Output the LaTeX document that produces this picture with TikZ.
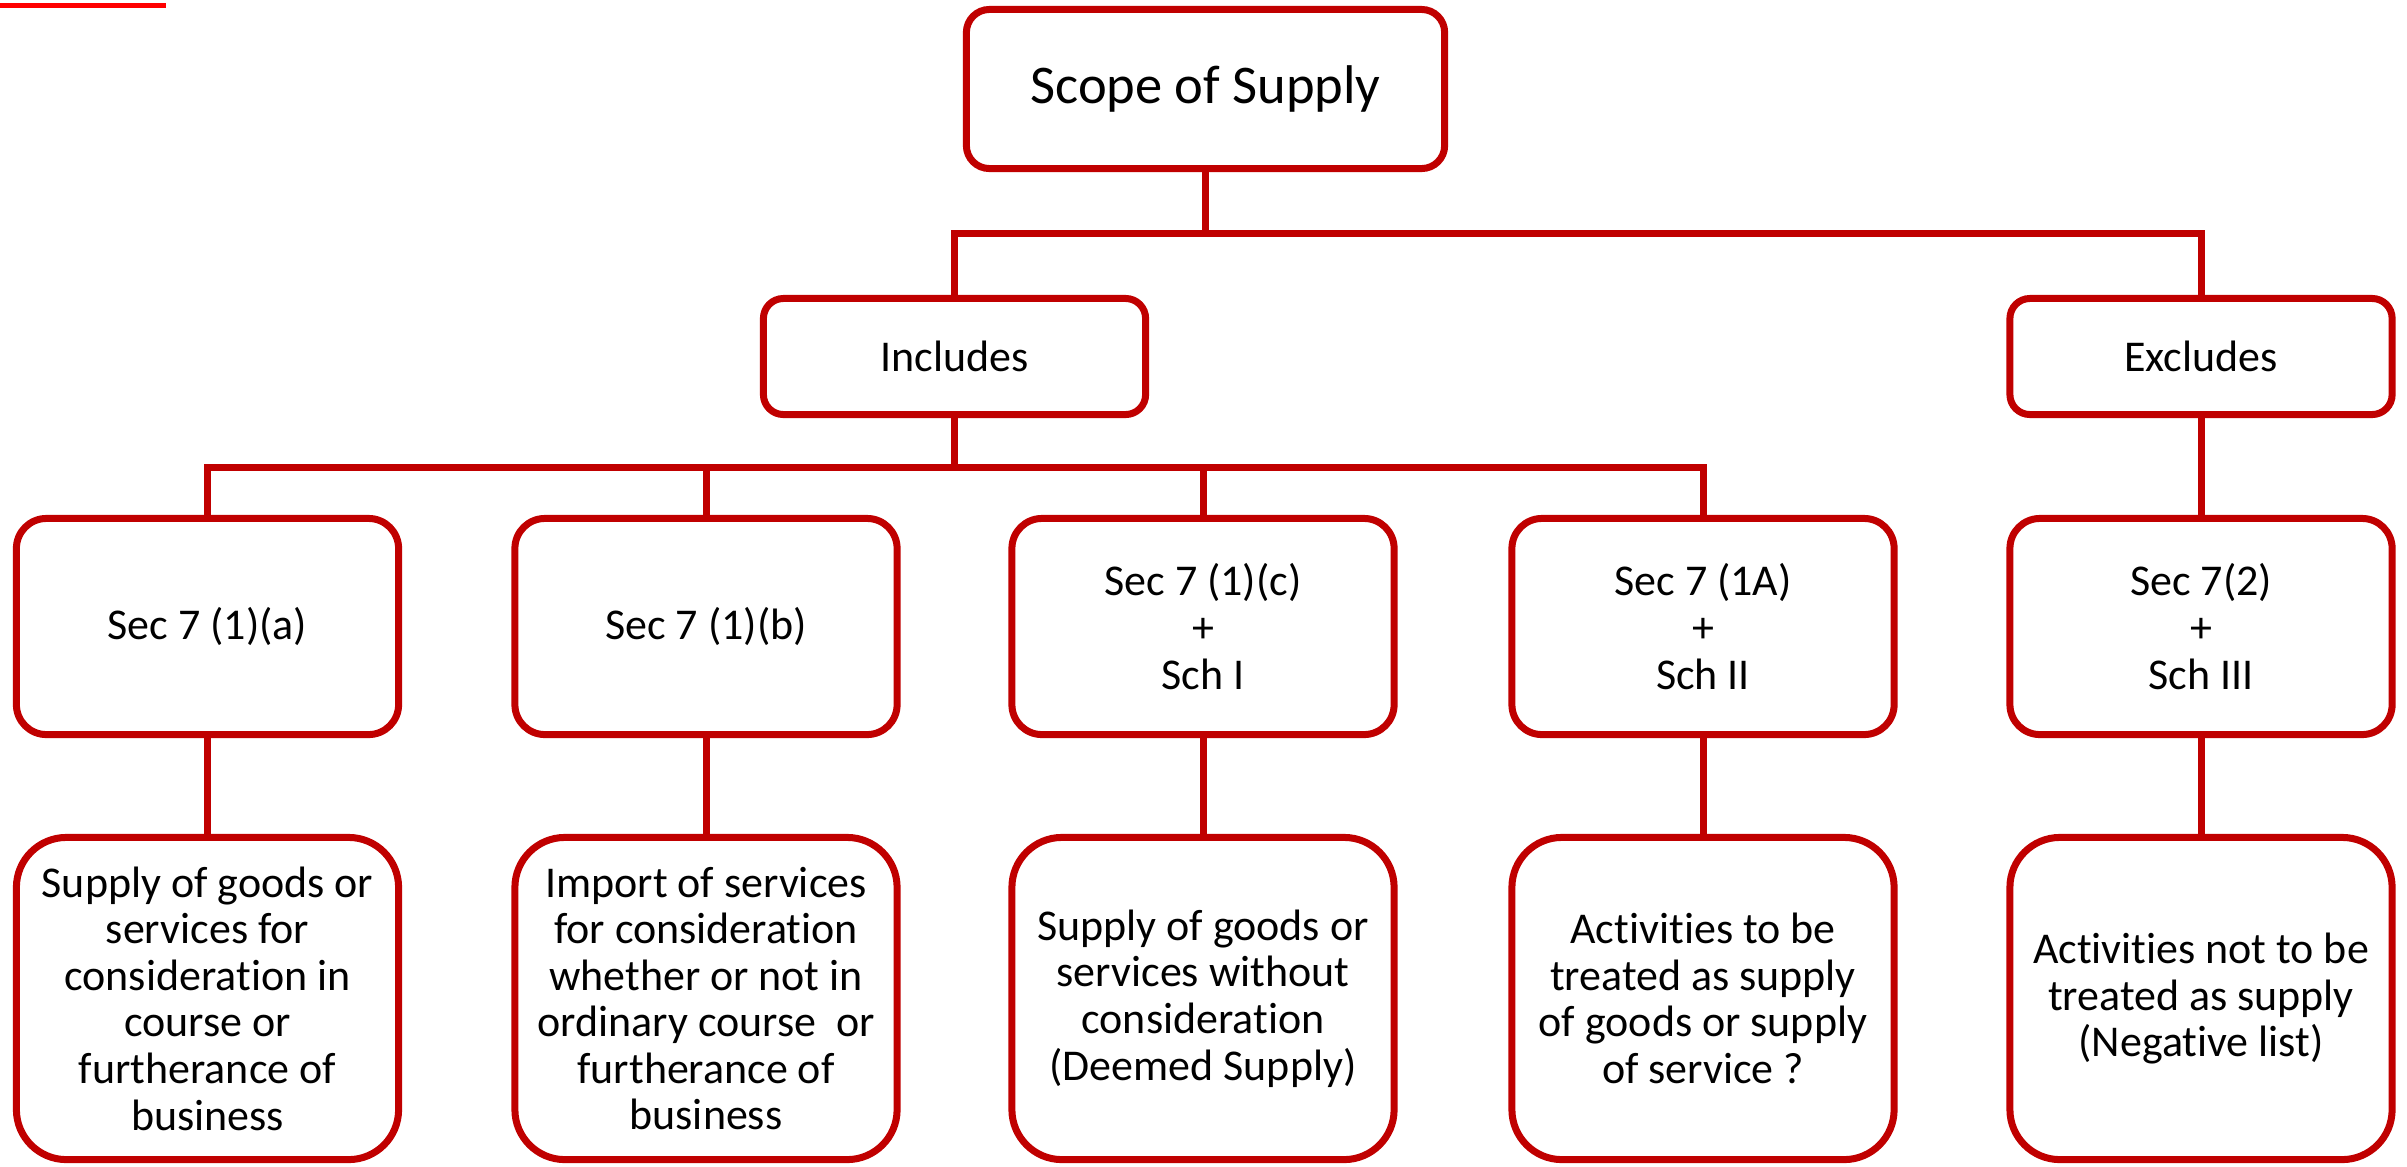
\documentclass[tikz,border=0pt]{standalone}
\usepackage{fontspec}
\setmainfont{Carlito}[Ligatures=NoCommon]
\definecolor{boxred}{HTML}{C00000}
\tikzset{
 box/.style={draw=boxred, line width=0.07cm, align=center, inner sep=0pt, font=\fontsize{12.5}{13.25}\selectfont},
 lvltwo/.style={box, minimum width=3.82cm, minimum height=2.16cm, rounded corners=0.3cm},
 lvlthree/.style={box, minimum width=3.82cm, minimum height=3.22cm, rounded corners=0.5cm},
 link/.style={draw=boxred, line width=0.07cm},
}
\begin{document}
\begin{tikzpicture}[x=0.01cm,y=-0.01cm]
\useasboundingbox (0,0) rectangle (2407,1166);
\draw[red, line width=0.05cm] (0,5.5) -- (166,5.5);
\node[box, minimum width=4.78cm, minimum height=1.59cm, rounded corners=0.23cm, font=\fontsize{15.5}{18}\selectfont] (scope) at (1205.5,89) {Scope of Supply};
\node[box, minimum width=3.82cm, minimum height=1.16cm, rounded corners=0.2cm] (inc) at (954.5,356.5) {Includes};
\node[box, minimum width=3.82cm, minimum height=1.16cm, rounded corners=0.2cm] (exc) at (2201,356.5) {Excludes};
\node[lvltwo] (a1) at (207.5,626.5) {Sec 7 (1)(a)};
\node[lvltwo] (a2) at (706,626.5) {Sec 7 (1)(b)};
\node[lvltwo] (a3) at (1203,626.5) {Sec 7 (1)(c)\\+\\Sch I};
\node[lvltwo] (a4) at (1703,626.5) {Sec 7 (1A)\\+\\Sch II};
\node[lvltwo] (a5) at (2201,626.5) {Sec 7(2)\\+\\Sch III};
\node[lvlthree] (b1) at (207.5,998.5) {Supply of goods or\\services for\\consideration in\\course or\\furtherance of\\business};
\node[lvlthree] (b2) at (706,998.5) {Import of services\\for consideration\\whether or not in\\ordinary course\ \ or\\furtherance of\\business};
\node[lvlthree] (b3) at (1203,998.5) {Supply of goods or\\services without\\consideration\\(Deemed Supply)};
\node[lvlthree] (b4) at (1703,998.5) {Activities to be\\treated as supply\\of goods or supply\\of service ?};
\node[lvlthree] (b5) at (2201,998.5) {Activities not to be\\treated as supply\\(Negative list)};
\coordinate (bus1) at (0,233);
\coordinate (bus2) at (0,467);
\draw[link] (scope.south) -- (scope.south |- bus1);
\draw[link] (inc.north) |- (exc.north |- bus1) -- (exc.north);
\draw[link] (inc.south) -- (inc.south |- bus2);
\draw[link] (a1.north) |- (a4.north |- bus2) -- (a4.north);
\draw[link] (a2.north) -- (a2.north |- bus2);
\draw[link] (a3.north) -- (a3.north |- bus2);
\draw[link] (exc) -- (a5);
\foreach \i in {1,...,5} { \draw[link] (a\i) -- (b\i); }
\end{tikzpicture}
\end{document}
